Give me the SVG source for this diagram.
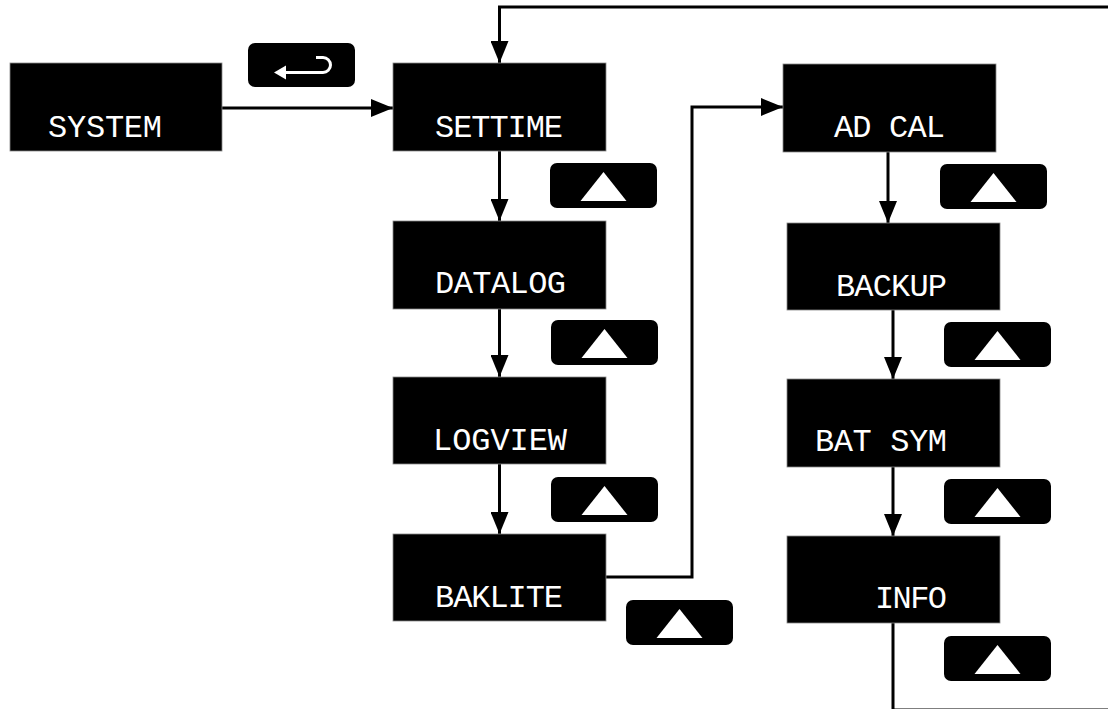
<svg xmlns="http://www.w3.org/2000/svg" width="1108" height="709" viewBox="0 0 1108 709">
  <style>
    .box { fill: #000; stroke: #888; stroke-width: 0.8; }
    .lbl { fill: #fff; font-family: "Liberation Mono", "DejaVu Sans Mono", monospace; font-size: 32px; }
    .conn { fill: none; stroke: #000; stroke-width: 3; }
    .btn { fill: #000; }
    .tri { fill: #fff; }
  </style>
  <defs>
    <marker id="arr" markerUnits="userSpaceOnUse" markerWidth="22" markerHeight="18" viewBox="0 0 22 18" refX="22" refY="9" orient="auto">
      <path d="M0 0 L22 9 L0 18 Z" fill="#000"/>
    </marker>
    <symbol id="upbtn" viewBox="0 0 107 45" width="107" height="45" overflow="visible">
      <rect class="btn" x="0" y="0" width="107" height="45" rx="7"/>
      <polygon class="tri" points="53.5,9 76.5,38 30.5,38"/>
    </symbol>
  </defs>

  <g id="connectors">
    <path class="conn" d="M222 108 H393" marker-end="url(#arr)"/>
    <path class="conn" d="M499.5 151 V221" marker-end="url(#arr)"/>
    <path class="conn" d="M499.5 309 V377" marker-end="url(#arr)"/>
    <path class="conn" d="M499.5 464 V534" marker-end="url(#arr)"/>
    <path class="conn" d="M606 577 H692 V107 H783" marker-end="url(#arr)"/>
    <path class="conn" d="M888 152 V223" marker-end="url(#arr)"/>
    <path class="conn" d="M893 310 V379" marker-end="url(#arr)"/>
    <path class="conn" d="M893 467 V536" marker-end="url(#arr)"/>
    <path class="conn" d="M893 623 V710 H1112 V7 H499.5 V63" marker-end="url(#arr)"/>
  </g>

  <g id="enter-button">
    <rect class="btn" x="248" y="43" width="107" height="44" rx="7"/>
    <path d="M316 57.5 H323 A7.5 7.5 0 0 1 323 72.5 H283" fill="none" stroke="#fff" stroke-width="3"/>
    <polygon points="274,72.5 286,65.5 286,79.5" fill="#fff"/>
  </g>

  <g id="node-system">
    <rect class="box" x="10" y="63" width="212" height="88"/>
    <text class="lbl" x="48" y="137" textLength="114" lengthAdjust="spacing">SYSTEM</text>
  </g>
  <g id="node-settime">
    <rect class="box" x="393" y="63" width="213" height="88"/>
    <text class="lbl" x="435" y="137" textLength="128" lengthAdjust="spacing">SETTIME</text>
  </g>
  <g id="node-datalog">
    <rect class="box" x="393" y="221" width="213" height="88"/>
    <text class="lbl" x="435" y="293" textLength="131" lengthAdjust="spacing">DATALOG</text>
  </g>
  <g id="node-logview">
    <rect class="box" x="393" y="377" width="213" height="87"/>
    <text class="lbl" x="433" y="450" textLength="134" lengthAdjust="spacing">LOGVIEW</text>
  </g>
  <g id="node-baklite">
    <rect class="box" x="393" y="534" width="213" height="87"/>
    <text class="lbl" x="435" y="607" textLength="128" lengthAdjust="spacing">BAKLITE</text>
  </g>
  <g id="node-adcal">
    <rect class="box" x="783" y="64" width="213" height="88"/>
    <text class="lbl" x="834" y="137" textLength="111" lengthAdjust="spacing">AD CAL</text>
  </g>
  <g id="node-backup">
    <rect class="box" x="787" y="223" width="213" height="87"/>
    <text class="lbl" x="836" y="296" textLength="111" lengthAdjust="spacing">BACKUP</text>
  </g>
  <g id="node-batsym">
    <rect class="box" x="787" y="379" width="213" height="88"/>
    <text class="lbl" x="815" y="451" textLength="132" lengthAdjust="spacing">BAT SYM</text>
  </g>
  <g id="node-info">
    <rect class="box" x="787" y="536" width="213" height="87"/>
    <text class="lbl" x="875" y="608" textLength="72" lengthAdjust="spacing">INFO</text>
  </g>

  <g id="up-buttons">
    <use href="#upbtn" x="550" y="163"/>
    <use href="#upbtn" x="551" y="320"/>
    <use href="#upbtn" x="551" y="477"/>
    <use href="#upbtn" x="626" y="600"/>
    <use href="#upbtn" x="940" y="164"/>
    <use href="#upbtn" x="944" y="322"/>
    <use href="#upbtn" x="944" y="479"/>
    <use href="#upbtn" x="944" y="636"/>
  </g>
</svg>
